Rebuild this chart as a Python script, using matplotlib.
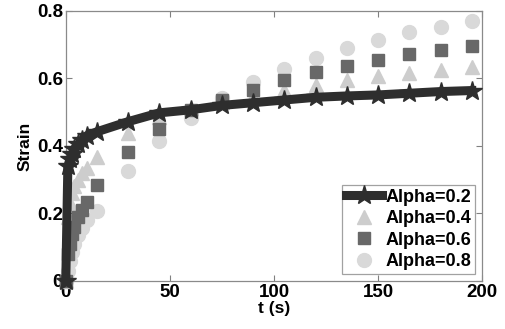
import numpy as np
import matplotlib.pyplot as plt

# time points (s)
t = [0, 1, 2, 3, 4, 6, 8, 10, 15, 30, 45, 60, 75, 90, 105, 120, 135, 150, 165, 180, 195]

# strain for each alpha
strain_02 = [0, 0.34, 0.36, 0.375, 0.39, 0.405, 0.418, 0.43, 0.442, 0.472, 0.498, 0.507,
             0.52, 0.528, 0.536, 0.544, 0.548, 0.551, 0.556, 0.561, 0.564]
strain_04 = [0, 0.19, 0.23, 0.26, 0.28, 0.30, 0.32, 0.335, 0.368, 0.437, 0.487, 0.512,
             0.53, 0.546, 0.566, 0.581, 0.596, 0.607, 0.617, 0.625, 0.633]
strain_06 = [0, 0.08, 0.11, 0.14, 0.16, 0.19, 0.21, 0.235, 0.284, 0.383, 0.45, 0.507,
             0.535, 0.566, 0.596, 0.618, 0.638, 0.655, 0.672, 0.684, 0.697]
strain_08 = [0, 0.03, 0.06, 0.085, 0.11, 0.135, 0.156, 0.18, 0.207, 0.326, 0.415, 0.484,
             0.541, 0.589, 0.627, 0.66, 0.69, 0.714, 0.736, 0.753, 0.771]

xticks = [0, 50, 100, 150, 200]
yticks = [0, 0.2, 0.4, 0.6, 0.8]
ytick_labels = ['0', '0.2', '0.4', '0.6', '0.8']

plt.rcParams['font.family'] = ['Liberation Sans', 'DejaVu Sans']
plt.rcParams['font.weight'] = 'bold'

fig = plt.figure(figsize=(5.06, 3.29), dpi=100)
ax = fig.add_axes([0.130, 0.146, 0.823, 0.821])

ax.plot(t, strain_02, color='#2e2e2e', lw=6.5, marker='*', ms=15,
        label='Alpha=0.2', clip_on=False, zorder=5)
ax.plot(t, strain_04, ls='none', color='#cdcdcd', marker='^', ms=10.5,
        label='Alpha=0.4', clip_on=False, zorder=3)
ax.plot(t, strain_06, ls='none', color='#686868', marker='s', ms=8,
        label='Alpha=0.6', clip_on=False, zorder=3)
ax.plot(t, strain_08, ls='none', color='#d9d9d9', marker='o', ms=10,
        label='Alpha=0.8', clip_on=False, zorder=2)

ax.set_xlim(0, 200)
ax.set_ylim(0, 0.8)
ax.set_xticks(xticks)
ax.set_yticks(yticks)
ax.set_yticklabels(ytick_labels)
ax.tick_params(direction='in', top=True, right=True, length=4, color='#808080',
               labelsize=13.5, pad=2)
for s in ax.spines.values():
    s.set_color('#8a8a8a')
    s.set_linewidth(0.9)

ax.set_xlabel('t (s)', fontsize=12.5, fontweight='bold', labelpad=0)
ax.set_ylabel('Strain', fontsize=12.5, fontweight='bold', labelpad=3)

leg = ax.legend(loc='lower right', fontsize=13, frameon=True, fancybox=False,
                borderpad=0.2, labelspacing=0.25, handlelength=2.0,
                handletextpad=0.2, borderaxespad=0.4)
leg.get_frame().set_edgecolor('#8a8a8a')
leg.get_frame().set_linewidth(0.9)
for txt in leg.get_texts():
    txt.set_fontweight('bold')

fig.savefig('out.png', dpi=100)
